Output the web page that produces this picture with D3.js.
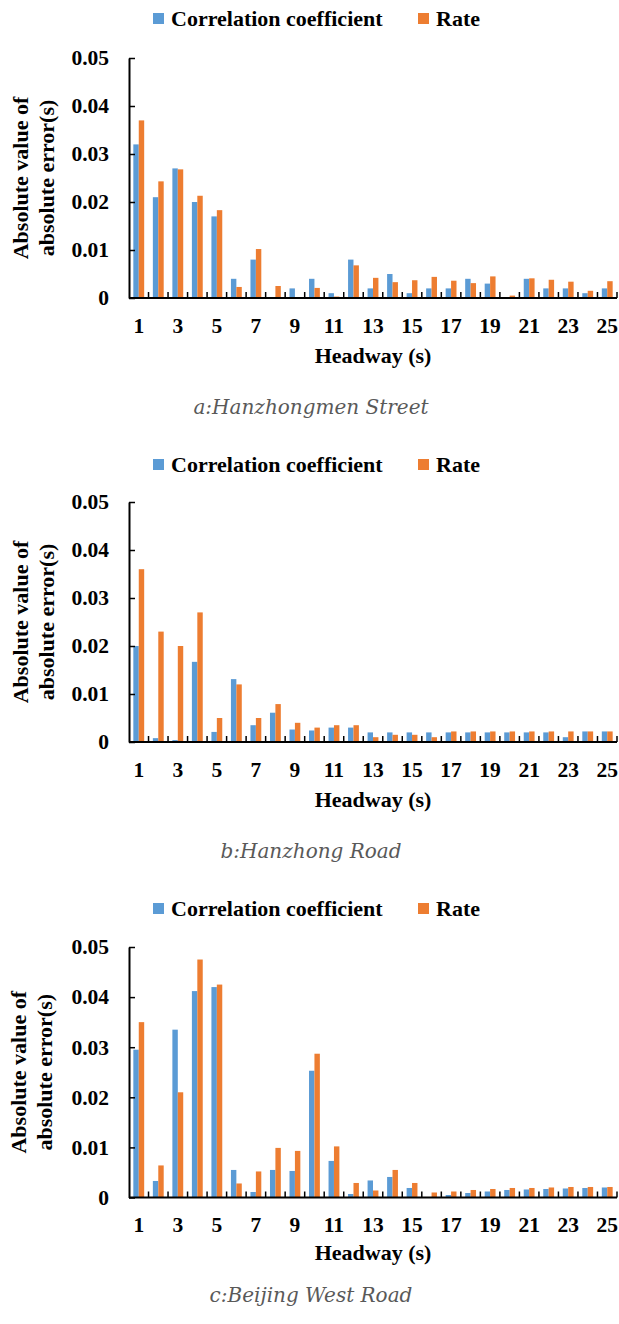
<!DOCTYPE html>
<html lang="en">
<head>
    <meta charset="utf-8">
    <title>Absolute error by headway</title>
    <script src="https://cdn.jsdelivr.net/npm/d3@7"></script>
    <style type="text/css">
        body
        {
            margin: 0;
            background-color: white;
        }
        svg
        {
            display: block;
            background-color: white;
        }
        .bold_text
        {
            font-family: "Liberation Serif", "Times New Roman", serif;
            font-weight: bold;
            font-size: 22px;
            fill: black;
        }
        .tick_text
        {
            font-family: "Liberation Serif", "Times New Roman", serif;
            font-weight: bold;
            font-size: 21.5px;
            fill: black;
        }
        .caption
        {
            font-family: "DejaVu Serif", "Palatino Linotype", serif;
            font-style: italic;
            font-size: 20px;
            fill: #595959;
        }
    </style>
</head>
<body>
    <div id="chart_div"></div>
    <script>
    "use strict";

    // headway categories (s)
    var headway = [1, 2, 3, 4, 5, 6, 7, 8, 9, 10, 11, 12, 13, 14, 15, 16, 17, 18, 19, 20, 21, 22, 23, 24, 25];
    var x_tick_labels = [1, 3, 5, 7, 9, 11, 13, 15, 17, 19, 21, 23, 25];
    var y_ticks = [0, 0.01, 0.02, 0.03, 0.04, 0.05];
    var series_names = ["Correlation coefficient", "Rate"];
    var series_colors = ["#5b9bd5", "#ed7d31"];
    var captions = ["a:Hanzhongmen Street", "b:Hanzhong Road", "c:Beijing West Road"];

    // a: Hanzhongmen Street
    var corr_a = [0.032, 0.021, 0.027, 0.020, 0.017, 0.004, 0.008, 0, 0.002, 0.004, 0.001, 0.008, 0.002,
                  0.005, 0.001, 0.002, 0.002, 0.004, 0.003, 0, 0.004, 0.002, 0.002, 0.001, 0.002];
    var rate_a = [0.037, 0.0243, 0.0268, 0.0213, 0.0183, 0.0023, 0.0102, 0.0025, 0, 0.0021, 0.0003, 0.0068, 0.0042,
                  0.0033, 0.0037, 0.0044, 0.0036, 0.0031, 0.0045, 0.0005, 0.0041, 0.0038, 0.0034, 0.0015, 0.0035];

    // b: Hanzhong Road
    var corr_b = [0.020, 0.0008, 0.0004, 0.0167, 0.0021, 0.0131, 0.0035, 0.0061, 0.0026, 0.0024, 0.003, 0.003, 0.002,
                  0.002, 0.002, 0.002, 0.002, 0.002, 0.002, 0.002, 0.002, 0.002, 0.001, 0.0022, 0.0022];
    var rate_b = [0.036, 0.023, 0.020, 0.027, 0.005, 0.012, 0.005, 0.0079, 0.004, 0.003, 0.0035, 0.0035, 0.001,
                  0.0015, 0.0015, 0.001, 0.0022, 0.0022, 0.0022, 0.0022, 0.0022, 0.0022, 0.0022, 0.0022, 0.0022];

    // c: Beijing West Road
    var corr_c = [0.0295, 0.0033, 0.0335, 0.0412, 0.042, 0.0055, 0.0011, 0.0055, 0.0053, 0.0253, 0.0073, 0.0007, 0.0034,
                  0.0041, 0.0019, 0, 0.0005, 0.0009, 0.0012, 0.0015, 0.0016, 0.0017, 0.0018, 0.0019, 0.002];
    var rate_c = [0.035, 0.0064, 0.021, 0.0475, 0.0425, 0.0028, 0.0052, 0.0099, 0.0093, 0.0287, 0.0102, 0.0029, 0.0014,
                  0.0055, 0.0029, 0.001, 0.0012, 0.0015, 0.0017, 0.0019, 0.0019, 0.002, 0.0021, 0.0021, 0.0021];

    var svg_width = 619;
    var svg_height = 1324;
    var plot_left = 129;
    var plot_right = 617;

    // vertical layout of the three panels
    var panels = [
        {corr: corr_a, rate: rate_a, caption: captions[0], legend_y: 13, top: 58, bottom: 298, title_y: 363, caption_y: 414, ylab_x: 28},
        {corr: corr_b, rate: rate_b, caption: captions[1], legend_y: 459, top: 502, bottom: 742, title_y: 807, caption_y: 858, ylab_x: 28},
        {corr: corr_c, rate: rate_c, caption: captions[2], legend_y: 903, top: 947, bottom: 1197.5, title_y: 1260, caption_y: 1302, ylab_x: 26}
    ];

    var chart_svg = d3.select("#chart_div")
        .append("svg")
        .attr("width", svg_width)
        .attr("height", svg_height);

    var x = d3.scaleBand()
        .domain(headway)
        .range([plot_left, plot_right])
        .paddingInner(0)
        .paddingOuter(0);
    var x1 = d3.scaleBand()
        .domain([0, 1])
        .range([0, x.bandwidth()])
        .paddingInner(0)
        .paddingOuter(0.8);

    panels.forEach(function(p)
    {
        var g = chart_svg.append("g");
        var y = d3.scaleLinear()
            .domain([0, 0.05])
            .range([p.bottom, p.top]);

        // legend
        var legend_x = [153, 418];
        var legend = g.append("g");
        legend.selectAll("rect")
            .data(series_names)
            .enter()
            .append("rect")
            .attr("x", function(d, i) { return legend_x[i]; })
            .attr("y", p.legend_y)
            .attr("width", 11)
            .attr("height", 11)
            .attr("fill", function(d, i) { return series_colors[i]; });
        legend.selectAll("text")
            .data(series_names)
            .enter()
            .append("text")
            .attr("class", "bold_text")
            .attr("x", function(d, i) { return legend_x[i] + 18; })
            .attr("y", p.legend_y + 13)
            .text(function(d) { return d; });

        // bars
        var rows = headway.map(function(h, i)
        {
            return {h: h, values: [p.corr[i], p.rate[i]]};
        });
        var groups = g.selectAll(".group")
            .data(rows)
            .enter()
            .append("g")
            .attr("class", "group")
            .attr("transform", function(d) { return "translate(" + x(d.h) + ",0)"; });
        groups.selectAll("rect")
            .data(function(d) { return d.values; })
            .enter()
            .append("rect")
            .attr("x", function(d, i) { return x1(i); })
            .attr("y", function(d) { return y(d); })
            .attr("width", x1.bandwidth())
            .attr("height", function(d) { return p.bottom - y(d); })
            .attr("fill", function(d, i) { return series_colors[i]; });

        // y axis
        var y_axis = d3.axisLeft(y)
            .tickValues(y_ticks)
            .tickSizeInner(-6)
            .tickSizeOuter(0)
            .tickPadding(20)
            .tickFormat(function(d) { return d === 0 ? "0" : d3.format(".2f")(d); });
        var yg = g.append("g")
            .attr("transform", "translate(" + plot_left + ",0)")
            .call(y_axis);
        yg.selectAll("text").attr("class", "tick_text").attr("font-family", null).attr("font-size", null);
        yg.selectAll("line").attr("stroke", "black").attr("stroke-width", 1.5);
        yg.select(".domain").attr("stroke", "black").attr("stroke-width", 2);

        // x axis labels
        var x_axis = d3.axisBottom(x)
            .tickValues(x_tick_labels)
            .tickSize(0)
            .tickPadding(19.5);
        var xg = g.append("g")
            .attr("transform", "translate(0," + p.bottom + ")")
            .call(x_axis);
        xg.select(".domain").remove();
        xg.selectAll("text").attr("class", "tick_text").attr("font-family", null).attr("font-size", null);

        // x axis line and ticks between categories
        g.append("line")
            .attr("x1", plot_left)
            .attr("x2", plot_right)
            .attr("y1", p.bottom)
            .attr("y2", p.bottom)
            .attr("stroke", "black")
            .attr("stroke-width", 2);
        g.selectAll(".xtick")
            .data(headway.slice(1).concat(["end"]))
            .enter()
            .append("line")
            .attr("class", "xtick")
            .attr("x1", function(d) { return d === "end" ? plot_right : x(d); })
            .attr("x2", function(d) { return d === "end" ? plot_right : x(d); })
            .attr("y1", p.bottom)
            .attr("y2", p.bottom - 6)
            .attr("stroke", "black")
            .attr("stroke-width", 1.5);

        // axis titles
        g.append("text")
            .attr("class", "bold_text")
            .attr("x", (plot_left + plot_right) / 2)
            .attr("y", p.title_y)
            .style("text-anchor", "middle")
            .text("Headway (s)");
        var mid = (p.top + p.bottom) / 2;
        g.append("text")
            .attr("class", "bold_text")
            .attr("transform", "translate(" + p.ylab_x + "," + mid + ") rotate(-90)")
            .style("text-anchor", "middle")
            .text("Absolute value of");
        g.append("text")
            .attr("class", "bold_text")
            .attr("transform", "translate(" + (p.ylab_x + 26) + "," + mid + ") rotate(-90)")
            .style("text-anchor", "middle")
            .text("absolute error(s)");

        // caption
        g.append("text")
            .attr("class", "caption")
            .attr("x", 311)
            .attr("y", p.caption_y)
            .style("text-anchor", "middle")
            .text(p.caption);
    });
    </script>
</body>
</html>
